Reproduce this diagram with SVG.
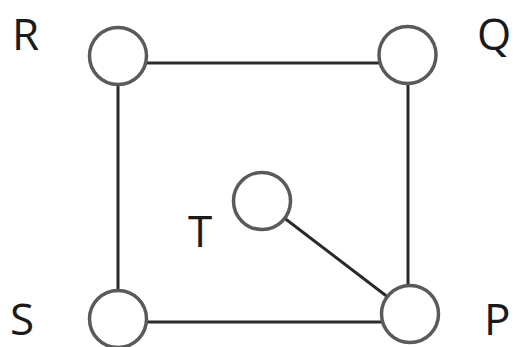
<svg xmlns="http://www.w3.org/2000/svg" width="515" height="347" viewBox="0 0 515 347">
<style>
.e{stroke:#2a2a2a;stroke-width:3;fill:none}
.n{fill:#fff;stroke:#5a5a5a;stroke-width:3.5}
.l{font-family:"Open Sans","Liberation Sans",sans-serif;font-size:44px;fill:#1a1a1a}
</style>
<rect width="515" height="347" fill="#fff"/>
<g id="edges">
<line class="e" x1="118" y1="63" x2="408" y2="63"/>
<line class="e" x1="118" y1="56" x2="118" y2="322"/>
<line class="e" x1="408" y1="55" x2="408" y2="314"/>
<line class="e" x1="118" y1="322" x2="410" y2="322"/>
<line class="e" x1="262" y1="201" x2="410" y2="314"/>
</g>
<g id="R"><circle class="n" cx="118" cy="56" r="28.5"/><text class="l" x="12" y="50">R</text></g>
<g id="Q"><circle class="n" cx="407.5" cy="55" r="28.5"/><text class="l" x="477" y="50">Q</text></g>
<g id="T"><circle class="n" cx="262" cy="201" r="28.5"/><text class="l" x="188" y="247">T</text></g>
<g id="S"><circle class="n" cx="118" cy="319" r="28.5"/><text class="l" x="10" y="335">S</text></g>
<g id="P"><circle class="n" cx="410" cy="314" r="28.5"/><text class="l" x="484" y="335">P</text></g>
</svg>
